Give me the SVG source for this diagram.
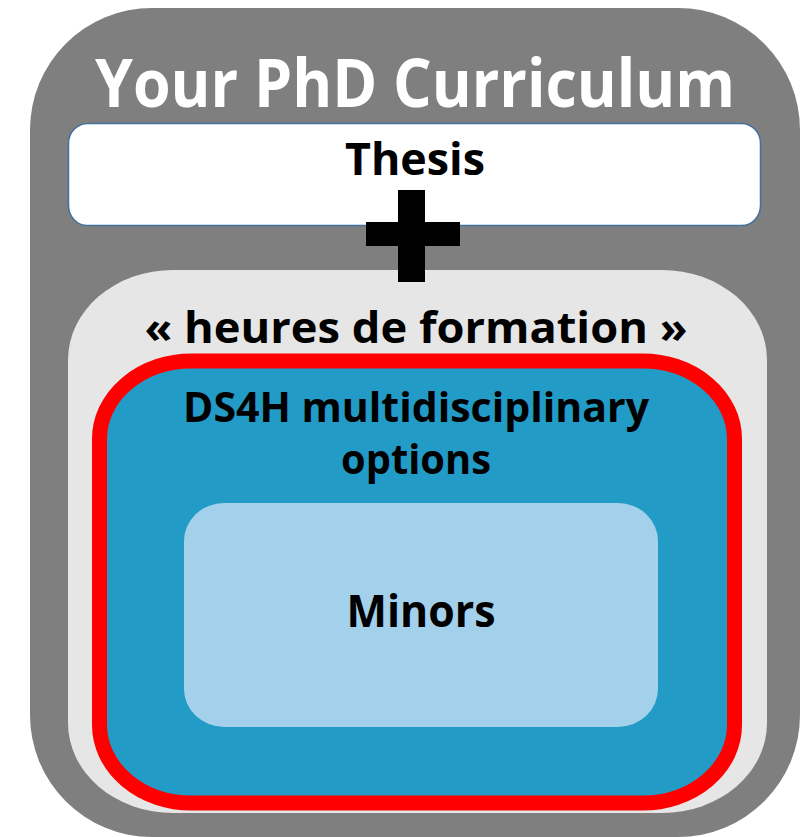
<svg xmlns="http://www.w3.org/2000/svg" width="808" height="837" viewBox="0 0 808 837">
<style>
.t{font-family:"Open Sans","Noto Sans","Liberation Sans",sans-serif;font-weight:bold;text-anchor:middle;fill:#000}
</style>
<rect width="808" height="837" fill="#ffffff"/>
<g id="curriculum">
<rect x="30" y="8" width="770" height="829" rx="122" ry="122" fill="#7f7f7f"/>
<text class="t" x="415" y="107" font-size="66" style="fill:#ffffff" textLength="640" lengthAdjust="spacingAndGlyphs">Your PhD Curriculum</text>
</g>
<g id="thesis">
<rect x="68.5" y="123.5" width="692" height="102" rx="19" ry="20" fill="#ffffff" stroke="#41719c" stroke-width="1.5"/>
<text class="t" x="415" y="175" font-size="45" textLength="140" lengthAdjust="spacingAndGlyphs">Thesis</text>
</g>
<g id="formation">
<rect x="68" y="270" width="699" height="543" rx="105" ry="90" fill="#e6e6e6"/>
<text class="t" x="416" y="343" font-size="43" textLength="543" lengthAdjust="spacingAndGlyphs">« heures de formation »</text>
</g>
<g id="connectors">
<rect x="398" y="190" width="27" height="92" fill="#000"/>
<rect x="366" y="222" width="94" height="24" fill="#000"/>
</g>
<g id="ds4h">
<rect x="99.5" y="361" width="635" height="442" rx="92" ry="78" fill="#229bc6" stroke="#ff0000" stroke-width="15"/>
<text class="t" x="416" y="422" font-size="41" textLength="466" lengthAdjust="spacingAndGlyphs">DS4H multidisciplinary</text>
<text class="t" x="416" y="474" font-size="41" textLength="150" lengthAdjust="spacingAndGlyphs">options</text>
</g>
<g id="minors">
<rect x="184" y="503" width="474" height="224" rx="40" ry="38" fill="#a3d0ea"/>
<text class="t" x="421" y="627" font-size="45" textLength="149" lengthAdjust="spacingAndGlyphs">Minors</text>
</g>
</svg>
